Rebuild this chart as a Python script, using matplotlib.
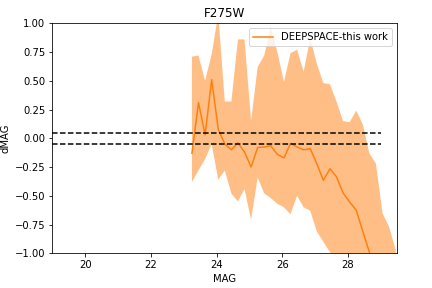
import numpy as np
import matplotlib
matplotlib.use("Agg")
import matplotlib.pyplot as plt

mag_start = 23.25
mag_step = 0.2
dmag_mean = [-0.13, 0.31, 0.03, 0.51, 0.08, -0.05, -0.10, -0.04, -0.12, -0.25,
             -0.08, -0.075, -0.065, -0.14, -0.17, -0.045, -0.075, -0.10, -0.09, -0.22,
             -0.365, -0.265, -0.335, -0.475, -0.555, -0.625, -0.81, -0.99, -1.15, -1.3,
             -1.45, -1.6]
dmag_upper = [0.71, 0.72, 0.50, 0.73, 1.08, 0.32, 0.32, 0.86, 0.86, 0.15,
              0.62, 0.72, 0.97, 0.75, 0.49, 0.74, 0.77, 0.58, 0.87, 0.65,
              0.48, 0.47, 0.32, 0.15, 0.14, 0.24, 0.12, -0.13, -0.22, -0.65,
              -0.77, -0.97]
dmag_lower = [-0.38, -0.28, -0.18, -0.05, -0.36, -0.28, -0.48, -0.55, -0.44, -0.71,
              -0.34, -0.48, -0.52, -0.57, -0.60, -0.66, -0.50, -0.60, -0.63, -0.81,
              -0.90, -0.99, -1.08, -1.15, -1.22, -1.3, -1.4, -1.5, -1.6, -1.7,
              -1.8, -1.9]
mag = mag_start + mag_step * np.arange(len(dmag_mean))

fig = plt.figure(figsize=(6, 4), dpi=72)
ax = fig.add_axes([52.3/432, 1-253.3/288, (397.3-52.3)/432, (253.3-23.3)/288])

ax.fill_between(mag, dmag_lower, dmag_upper, color='#ff7f0e', alpha=0.5, linewidth=0)
ax.plot(mag, dmag_mean, color='#ff7f0e', label='DEEPSPACE-this work')
ax.plot([19, 29], [0.05, 0.05], 'k--')
ax.plot([19, 29], [-0.05, -0.05], 'k--')

ax.set_xlim(19, 29.5)
ax.set_ylim(-1, 1)
ax.set_xticks([20, 22, 24, 26, 28])
ax.set_yticks([-1.0, -0.75, -0.5, -0.25, 0.0, 0.25, 0.5, 0.75, 1.0])
ax.set_title('F275W')
ax.set_xlabel('MAG')
ax.set_ylabel('dMAG')
ax.legend(loc='upper right')

fig.savefig('out.png', dpi=72)
